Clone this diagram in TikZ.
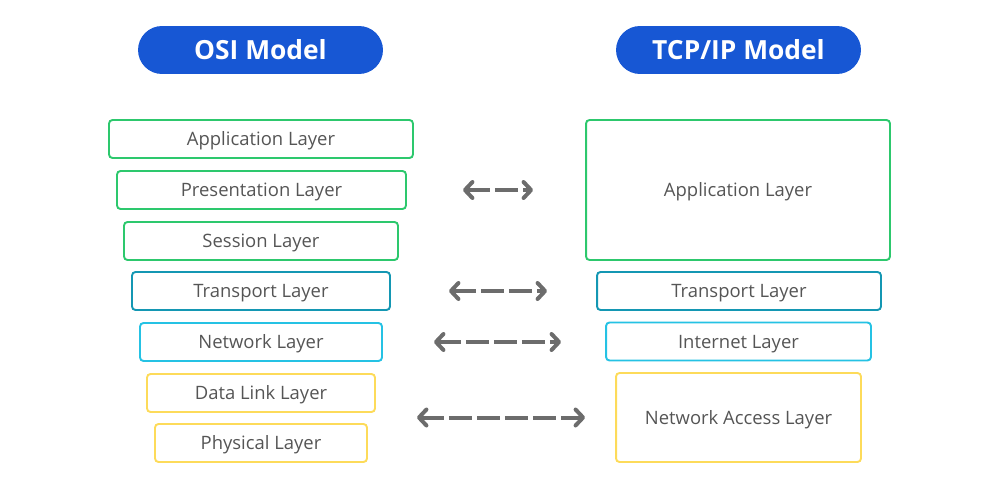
\documentclass[tikz,border=0pt]{standalone}
\usepackage{fontspec}
\setmainfont{Open Sans}
\usetikzlibrary{arrows.meta}
\definecolor{hdrblue}{HTML}{1757D4}
\definecolor{appgreen}{HTML}{2DC86D}
\definecolor{tpteal}{HTML}{1497B3}
\definecolor{netcyan}{HTML}{25C2E4}
\definecolor{linkyellow}{HTML}{FDDB5A}
\definecolor{txtgray}{HTML}{555555}
\definecolor{arrgray}{HTML}{6C6C6C}

\begin{document}
\begin{tikzpicture}[x=0.02cm,y=-0.02cm,
  header/.style={fill=hdrblue,text=white,font=\fontsize{15}{18}\selectfont\bfseries,
    rounded corners=0.48cm,minimum width=4.9cm,minimum height=0.96cm},
  layer/.style={draw=#1,line width=1.1pt,rounded corners=2pt,text=txtgray,
    font=\fontsize{10.5}{12}\selectfont,minimum height=0.76cm,inner sep=0pt,
    text height=7.5pt,text depth=0pt},
  link/.style={draw=arrgray,line width=0.08cm,dash pattern=on 0.46cm off 0.1cm,
    {Straight Barb[round,length=0.15cm,width=0.32cm]}-{Straight Barb[round,length=0.15cm,width=0.32cm]}}]
\useasboundingbox (0,0) rectangle (1000,500);
% headers
\node[header] (osiHead) at (260.5,50) {OSI Model};
\node[header] (tcpHead) at (738.5,50) {TCP/IP Model};
% OSI stack
\node[layer=appgreen,minimum width=6.08cm] (osiApp) at (261,139) {Application Layer};
\node[layer=appgreen,minimum width=5.78cm] (osiPres) at (261.5,190) {Presentation Layer};
\node[layer=appgreen,minimum width=5.48cm] (osiSess) at (261,241) {Session Layer};
\node[layer=tpteal,minimum width=5.16cm] (osiTrans) at (261,291) {Transport Layer};
\node[layer=netcyan,minimum width=4.84cm] (osiNet) at (261,342) {Network Layer};
\node[layer=linkyellow,minimum width=4.56cm] (osiData) at (261,393) {Data Link Layer};
\node[layer=linkyellow,minimum width=4.24cm] (osiPhys) at (261,443) {Physical Layer};
% TCP/IP stack
\node[layer=appgreen,minimum width=6.08cm,minimum height=2.8cm] (tcpApp) at (738,190) {Application Layer};
\node[layer=tpteal,minimum width=5.68cm] (tcpTrans) at (739,291) {Transport Layer};
\node[layer=netcyan,minimum width=5.3cm] (tcpInt) at (738.5,341.5) {Internet Layer};
\node[layer=linkyellow,minimum width=4.9cm,minimum height=1.78cm] (tcpNA) at (738.5,417.5) {Network Access Layer};
% mappings
\draw[link,shorten <=1.12cm,shorten >=1.04cm] (osiPres.east) -- (osiPres.east -| tcpApp.west);
\draw[link,shorten <=1.16cm,shorten >=0.98cm] (osiTrans.east) -- (tcpTrans.west);
\draw[link,shorten <=1.02cm,shorten >=0.88cm] (osiNet.east) -- (osiNet.east -| tcpInt.west);
\draw[link,shorten <=0.82cm,shorten >=0.6cm] (osiData.east |- tcpNA.west) -- (tcpNA.west);
\end{tikzpicture}
\end{document}
